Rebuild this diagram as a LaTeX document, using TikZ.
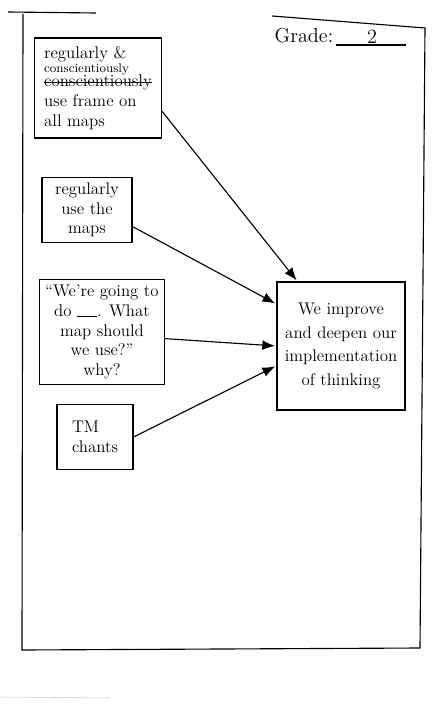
\documentclass[tikz,border=0pt]{standalone}
\usepackage{tikz}
\usetikzlibrary{arrows.meta,positioning}

\newcommand{\crossout}[1]{\setbox0\hbox{#1}\rlap{\raisebox{0.6ex}{\rule{\wd0}{0.6pt}}}\box0}

\begin{document}
\begin{tikzpicture}[x=0.025cm, y=-0.025cm, thick,
    >={Latex[length=9pt,width=7pt]},
    block/.style={rectangle, draw, font=\large, inner sep=4pt},
    goal/.style={rectangle, draw, align=center, font=\large, inner sep=2pt, minimum width=3.2cm, minimum height=3.2cm},
    line/.style={draw, ->, shorten >=1pt}]

    \useasboundingbox (0,0) rectangle (432,709);

    % page frame
    \draw (8,12) -- (96,13);
    \draw (23,14) -- (22,650) -- (420,648) -- (425,28) -- (272,16);
    \draw[gray!40, thin] (0,697) -- (110,698);
    \node (grade) at (304,36) {\Large Grade:};
    \draw (336,45) -- (406,45);
    \node (gradeval) at (372,37) {\Large 2};

    % causes
    \node [block, align=left, minimum width=3.175cm, minimum height=2.5cm] (b1) at (98,88)
        {regularly \&\\[-4pt] {\small conscientiously}\\[-4pt] \crossout{conscientiously}\\ use frame on\\ all maps};
    \node [block, align=center, minimum width=2.25cm, minimum height=1.625cm] (b2) at (87,210)
        {regularly\\ use the\\ maps};
    \node [block, align=center, minimum width=2.875cm, minimum height=2.475cm] (b3) at (102,332)
        {``We're going to\\ do \rule{0.5cm}{0.4pt}. What\\ map should\\ we use?''\\ why?};
    \node [block, align=left, minimum width=1.9cm, minimum height=1.625cm] (b4) at (95,437)
        {TM\\ chants};

    % effect
    \node [goal] (goal) at (341,346) {We improve\\[3pt] and deepen our\\[3pt] implementation\\[3pt] of thinking};

    \path [line] (b1.-20) -- (goal.124);
    \path [line] (b2.-20) -- (goal.147);
    \path [line] (b3.-6) -- (goal.west);
    \path [line] (b4.east) -- (goal.197);
\end{tikzpicture}
\end{document}
